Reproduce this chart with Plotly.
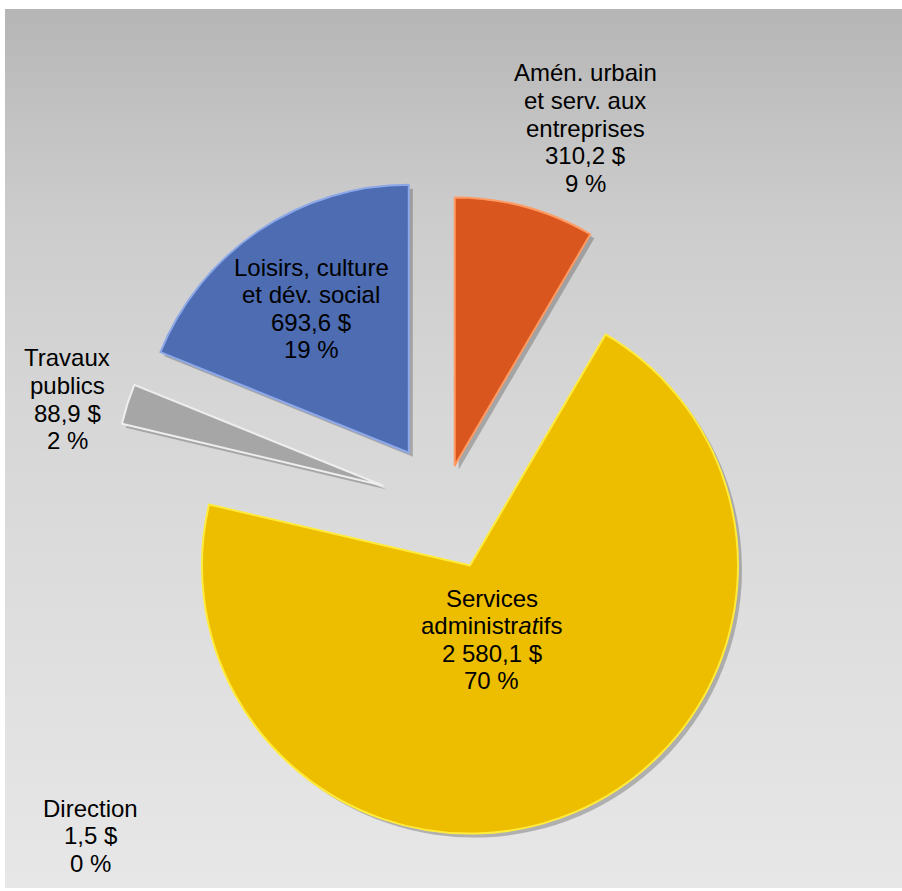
import plotly.graph_objects as go

# ---- data ----
categories = [
    "Amén. urbain et serv. aux entreprises",
    "Services administratifs",
    "Direction",
    "Travaux publics",
    "Loisirs, culture et dév. social",
]
label_lines = [
    ["Amén. urbain", "et serv. aux", "entreprises"],
    ["Services", "administr<i>at</i>ifs"],
    ["Direction"],
    ["Travaux", "publics"],
    ["Loisirs, culture", "et dév. social"],
]
values = [310.2, 2580.1, 1.5, 88.9, 693.6]
pct_shown = [9, 70, 0, 2, 19]

# ---- styles / layout ----
W, H = 902, 891
colors = ["#D9561F", "#EDBD00", "rgba(0,0,0,0)", "#A6A6A6", "#4D6CB2"]
edge_colors = ["#FF9A62", "#FFEB3B", "rgba(0,0,0,0)", "#EEEEEE", "#8DA8E8"]
edge_widths = [2, 2, 0, 2, 2]
shadow_colors = ["rgba(40,40,40,0.28)", "rgba(40,40,40,0.28)", "rgba(0,0,0,0)",
                 "rgba(40,40,40,0.28)", "rgba(40,40,40,0.28)"]
pulls = [0.153, 0.246, 0.0, 0.24, 0.235]

# label block centres (pixels) and line spacing
label_pos = [(585, 73), (492, 598), (90, 808), (67, 358), (311, 267)]
line_gap = 27.6

def fmt_money(v):
    s = f"{v:,.1f}"
    return s.replace(",", " ").replace(".", ",") + " $"

cx, cy, r = 444, 505, 268
side = 2 * r * (1 + max(pulls))
dom_x = [(cx - side / 2) / W, (cx + side / 2) / W]
dom_y = [(H - cy - side / 2) / H, (H - cy + side / 2) / H]

fig = go.Figure()

# soft drop shadow
sdx, sdy = 4 / W, -4 / H
fig.add_trace(go.Pie(
    labels=categories, values=values, sort=False, direction="clockwise",
    rotation=0, pull=pulls, textinfo="none", hoverinfo="skip",
    marker=dict(colors=shadow_colors, line=dict(width=0)),
    domain=dict(x=[dom_x[0] + sdx, dom_x[1] + sdx], y=[dom_y[0] + sdy, dom_y[1] + sdy]),
    showlegend=False,
))

fig.add_trace(go.Pie(
    labels=categories, values=values, sort=False, direction="clockwise",
    rotation=0, pull=pulls, textinfo="none", hoverinfo="skip",
    marker=dict(colors=colors, line=dict(color=edge_colors, width=edge_widths)),
    domain=dict(x=dom_x, y=dom_y),
    showlegend=False,
))

# gradient background panel
bx0, by0, bx1, by1 = 5, 9, 902, 888
stops = [(0.0, 181), (0.1, 192), (0.25, 205), (0.45, 214), (0.7, 222), (1.0, 231)]

def grey_at(t):
    for (t0, g0), (t1, g1) in zip(stops[:-1], stops[1:]):
        if t <= t1:
            return g0 + (g1 - g0) * (t - t0) / (t1 - t0)
    return stops[-1][1]

shapes = []
n = 110
for i in range(n):
    ya = by0 + (by1 - by0) * i / n
    yb = by0 + (by1 - by0) * (i + 1) / n + 0.6
    g = int(round(grey_at((i + 0.5) / n)))
    shapes.append(dict(
        type="rect", xref="paper", yref="paper", layer="below",
        x0=bx0 / W, x1=bx1 / W, y0=1 - min(yb, by1) / H, y1=1 - ya / H,
        fillcolor=f"rgb({g},{g},{g})", line=dict(width=0),
    ))

annotations = []
for lines, v, p, (lx, ly) in zip(label_lines, values, pct_shown, label_pos):
    all_lines = lines + [fmt_money(v), f"{p} %"]
    for k, txt in enumerate(all_lines):
        annotations.append(dict(
            text=txt, x=lx / W, y=1 - (ly + k * line_gap) / H,
            xref="paper", yref="paper", showarrow=False,
            xanchor="center", yanchor="middle",
            font=dict(family="Arial, Liberation Sans, sans-serif", size=24, color="#000000"),
        ))

fig.update_layout(
    width=W, height=H, margin=dict(l=0, r=0, t=0, b=0),
    paper_bgcolor="white", plot_bgcolor="white",
    shapes=shapes, annotations=annotations,
)

fig.write_html(
    "out.html",
    config={"displayModeBar": False},
    post_script="document.body.style.margin='0';document.body.style.overflow='hidden';",
)
